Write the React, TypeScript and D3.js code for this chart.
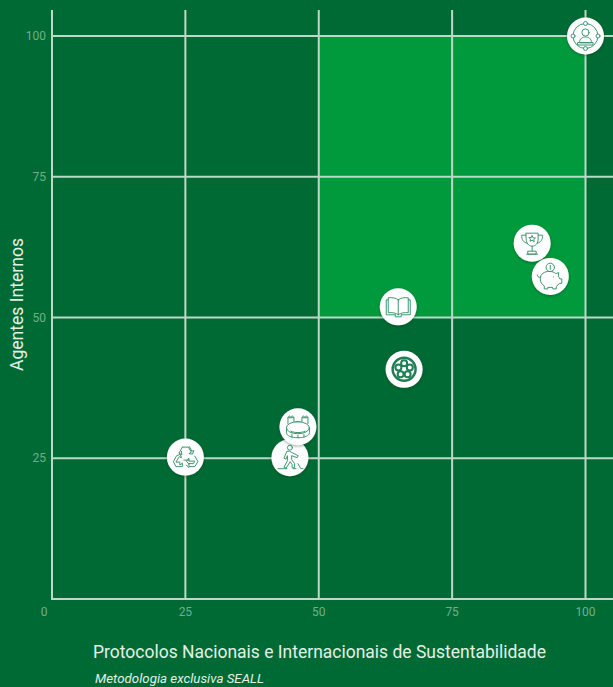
import React from "react";
import * as d3 from "d3";

const WIDTH = 613;
const HEIGHT = 687;

const tickValues = [0, 25, 50, 75, 100];
const pointNames = ["liderança", "troféu", "poupança", "livro", "filme", "estádio", "esporte", "reciclagem"];
const xValues = [100, 90, 93.4, 64.9, 66, 46.1, 44.6, 25];
const yValues = [100, 63.2, 57.3, 51.9, 40.8, 30.6, 25.1, 25.2];

const xTitle = "Protocolos Nacionais e Internacionais de Sustentabilidade";
const yTitle = "Agentes Internos";
const footnote = "Metodologia exclusiva SEALL";

const BG = "#006a34";
const HIGHLIGHT = "#009a3d";
const GRID = "#bcd8c6";
const TICK = "#6fb08c";
const TEXT = "#e2f0e6";
const ICON = "#3f9670";

const x = d3.scaleLinear().domain([0, 100]).range([52, 585.5]);
const y = d3.scaleLinear().domain([0, 100]).range([599, 36]);

// Line pictograms centred on the origin, one per data point.
const glyphs: Record<string, React.ReactNode> = {
  "liderança": (
    <g>
      <circle r={12.5} />
      <circle cy={-12.5} r={2} fill="#fff" />
      <circle cy={12.5} r={2} fill="#fff" />
      <circle cx={-12.5} r={2} fill="#fff" />
      <circle cx={12.5} r={2} fill="#fff" />
      <circle cy={-3.5} r={3.6} />
      <path d="M-6 6.5c0-4 3-5.5 6-5.5s6 1.500 6 5.500zM-7.500 6.500h15v2.500h-15z" />
    </g>
  ),
  "troféu": (
    <g>
      <path d="M-6-10h12v6c0 4-2.500 7-6 7s-6-3-6-7z" />
      <path d="M-6-8h-4.500c0 4.500 1.500 7 5.200 8M6-8h4.500c0 4.500-1.500 7-5.200 8" />
      <path d="M0 3v5M-4 8h8v3h-8zM-5.500 11h11" />
      <path d="M0-7.500l1 2.200 2.300.2-1.700 1.500.5 2.300L0-3l-2.100 1.200.5-2.300-1.700-1.500 2.300-.2z" />
    </g>
  ),
  "poupança": (
    <g>
      <circle cx={0} cy={-9} r={4.200} />
      <path d="M0-11v4" />
      <path d="M-10 2c0-4.500 4-7 9-7 3 0 5 .8 6.500 2.200l3-1-.5 3.500c.8.800 1.300 1.800 1.500 2.800h2v4.500h-2.500c-.8 1.300-1.800 2.200-3 3v2.500h-3.500v-1.500h-5v1.500h-3.500v-3c-2.500-1.500-4-3.800-4-6.500z" />
      <path d="M-10 1c-2 0-3-1-3-2.500M3 0.500h.1" />
    </g>
  ),
  "livro": (
    <g>
      <path d="M0-7C-2.500-9-6-9.500-10-9v15C-6 5.500-2.500 6 0 8 2.500 6 6 5.500 10 6V-9C6-9.500 2.500-9 0-7zM0-7V8" />
      <path d="M-10-7h-2V8h9M10-7h2V8H3M-3 8v2h6V8" />
    </g>
  ),
  "filme": (
    <g>
      <circle r={11.500} strokeWidth={2.400} stroke="#1f7f55" />
      <circle cy={-6} r={3} strokeWidth={2} stroke="#1f7f55" />
      <circle cx={-5.700} cy={-1.900} r={3} strokeWidth={2} stroke="#1f7f55" />
      <circle cx={5.700} cy={-1.900} r={3} strokeWidth={2} stroke="#1f7f55" />
      <circle cx={-3.500} cy={4.900} r={3} strokeWidth={2} stroke="#1f7f55" />
      <circle cx={3.500} cy={4.900} r={3} strokeWidth={2} stroke="#1f7f55" />
    </g>
  ),
  "estádio": (
    <g>
      <ellipse cy={1} rx={11.500} ry={6} />
      <path d="M-11.500 1v5c0 3 5 5 11.500 5s11.500-2 11.500-5V1" />
      <path d="M-7 4.500c2 1 4 1.300 7 1.300s5-.3 7-1.300M-6 7.500v3M0 8.500v2.500M6 7.500v3" />
      <path d="M-10-3v-6h6v4M10-3v-6h-6v4M-10-9l1.500-2 1.500 2 1.500-2 1.500 2M10-9l-1.500-2-1.500 2-1.500-2-1.500 2M-2-5h4" />
    </g>
  ),
  "esporte": (
    <g>
      <circle cx={0} cy={-10} r={2.500} />
      <path d="M-1-6.500h-2l-3 7 2 1 1.500-3.500v5l-3.500 6.500 2.200 1 4-6.500 2 3v3h2.500v-4l-3-4v-4l5.500 2 1-2-6-3z" />
      <path d="M-12 11h9M3 11h3M8 6l3 5h2" />
    </g>
  ),
  "reciclagem": (
    <g>
      <path d="M-3-10h6l3 5-2.500 1.500 3.500.5 1.500-3.500-2 .5-2.500-4.500" />
      <path d="M-3-10l-3.500 6 3 1.500-.5-3.500" />
      <path d="M-9-1l-3 5.500 2.500 5h6.500v-3.500l-2.500 2v-3h-4l3.500-5.500 2 1.200-.8-3.200z" />
      <path d="M9.500-1l3 5.500-3 5h-6v-3h4.500l1.500-2.500h-6v-3l-2.500 3 2.500 3" />
      <path d="M3.500 10.500l-2.500-2.500M-1.500 3h5" />
    </g>
  ),
};

export default function App() {
  const points = pointNames.map((name, i) => ({ name, px: x(xValues[i]), py: y(yValues[i]) }));
  // Later points overlap the earlier ones the way the chart stacks them.
  const drawOrder = [0, 1, 2, 3, 4, 7, 6, 5].map((i) => points[i]);

  return (
    <svg
      width={WIDTH}
      height={HEIGHT}
      viewBox={`0 0 ${WIDTH} ${HEIGHT}`}
      style={{ position: "absolute", left: 0, top: 0, display: "block" }}
    >
      <defs>
        <filter id="badgeShadow" x="-40%" y="-40%" width="180%" height="180%">
          <feDropShadow dx={0} dy={1} stdDeviation={1.500} floodColor="#00331a" floodOpacity={0.45} />
        </filter>
      </defs>

      <rect width={WIDTH} height={HEIGHT} fill={BG} />
      <rect
        x={x(50)}
        y={y(100)}
        width={x(100) - x(50)}
        height={y(50) - y(100)}
        fill={HIGHLIGHT}
      />

      {tickValues.slice(1).map((t) => (
        <line key={`h${t}`} x1={x(0)} x2={WIDTH} y1={y(t)} y2={y(t)} stroke={GRID} strokeWidth={2} />
      ))}
      {tickValues.slice(1).map((t) => (
        <line key={`v${t}`} x1={x(t)} x2={x(t)} y1={10} y2={y(0)} stroke={GRID} strokeWidth={2} />
      ))}
      <line x1={x(0)} x2={x(0)} y1={10} y2={y(0) + 1} stroke={GRID} strokeWidth={2} />
      <line x1={x(0)} x2={WIDTH} y1={y(0)} y2={y(0)} stroke={GRID} strokeWidth={2} />

      <g fontFamily="Roboto, sans-serif" fontSize={12} fill={TICK}>
        {tickValues.slice(1).map((t) => (
          <text key={`yt${t}`} x={46} y={y(t) + 4} textAnchor="end">
            {t}
          </text>
        ))}
        {tickValues.map((t) => (
          <text key={`xt${t}`} x={t === 0 ? 44 : x(t)} y={616} textAnchor="middle">
            {t}
          </text>
        ))}
      </g>

      <text
        x={93}
        y={658}
        fontFamily="Roboto, sans-serif"
        fontSize={18}
        fill={TEXT}
        textLength={453}
        lengthAdjust="spacingAndGlyphs"
      >
        {xTitle}
      </text>
      <text
        transform="translate(23,304.500) rotate(-90)"
        textAnchor="middle"
        fontFamily="Roboto, sans-serif"
        fontSize={18}
        fill={TEXT}
        textLength={133}
        lengthAdjust="spacingAndGlyphs"
      >
        {yTitle}
      </text>
      <text
        x={95}
        y={683}
        fontFamily="Roboto, sans-serif"
        fontStyle="italic"
        fontSize={12}
        fill={TEXT}
        textLength={169}
        lengthAdjust="spacingAndGlyphs"
      >
        {footnote}
      </text>

      {drawOrder.map((p) => (
        <g key={p.name} transform={`translate(${p.px},${p.py})`}>
          <circle r={18.500} fill="#fff" filter="url(#badgeShadow)" />
          <g fill="none" stroke={ICON} strokeWidth={1} strokeLinejoin="round" strokeLinecap="round">
            {glyphs[p.name]}
          </g>
        </g>
      ))}
    </svg>
  );
}
